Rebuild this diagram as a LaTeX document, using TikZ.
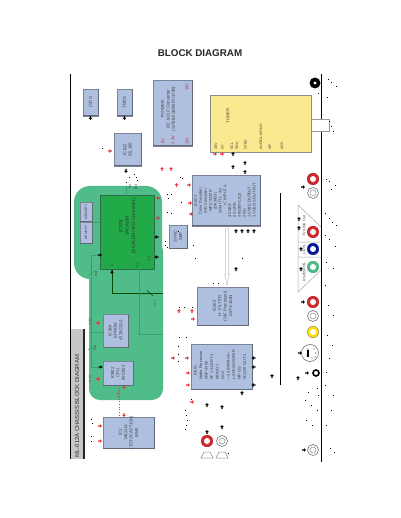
\documentclass[tikz,border=0pt]{standalone}
\usepackage{fontspec}
\setmainfont{Liberation Sans}
\definecolor{blockfill}{HTML}{AEBFE0}
\definecolor{blockedge}{HTML}{7A8496}
\definecolor{zone}{HTML}{50BC8A}
\definecolor{zoneline}{HTML}{3C9E6E}
\definecolor{chip}{HTML}{22AA48}
\definecolor{tunerfill}{HTML}{FBE98F}
\definecolor{redmk}{HTML}{E8303A}
\tikzset{
 blockbox/.style={draw=blockedge,fill=blockfill,line width=.7pt,inner sep=0pt,outer sep=0pt},
 blocktxt/.style={rotate=90,align=center,font=\fontsize{4.3}{5.4}\selectfont,text=black!75,inner sep=0pt},
 leftxt/.style={rotate=90,align=left,font=\fontsize{3.9}{4.9}\selectfont,text=black!75,inner sep=0pt},
 tunertxt/.style={rotate=90,anchor=west,font=\fontsize{3.6}{4}\selectfont,text=black!75,inner sep=0pt},
 redtxt/.style={rotate=90,font=\fontsize{4}{4}\selectfont,text=redmk!80!black,inner sep=0pt},
 wire/.style={draw=zoneline,line width=.5pt},
 darkwire/.style={draw=black!70!green,line width=.8pt},
 framerule/.style={draw=black,line width=1pt},
 tinytxt/.style={rotate=90,font=\fontsize{3.3}{4}\selectfont,text=black!70,inner sep=0pt},
}
\newcommand\blk[6]{%
 \node[blockbox,minimum width={(#4-#2)*1pt},minimum height={(#5-#3)*1pt}] (#1) at ({(#2+#4)/2},{(#3+#5)/2}) {};
 \draw[blockedge!80!black,line width=1pt] (#1.north east)--(#1.south east)--(#1.south west);
 \node[blocktxt] at (#1) {#6};}
\newcommand\mk[4]{\fill[#3,shift={(#1,#2)},rotate=#4] (-2,-.6) rectangle (0,.6) (0,-1.9)--(2,0)--(0,1.9)--cycle;}
\newcommand\jack[4]{\node[circle,fill=#3,draw=#4,line width=.4pt,minimum size=11.5pt,inner sep=0pt] (#1) at (#2) {};
 \fill[white] (#1) circle (3pt);}
\newcommand\gjack[2]{\node[circle,fill=white,draw=black!55,line width=.6pt,minimum size=11pt,inner sep=0pt] (#1) at (#2) {};
 \draw[black!45,line width=.5pt] (#1) circle (3pt);}
\begin{document}
\begin{tikzpicture}[x=1pt,y=-1pt]
\useasboundingbox (0,0) rectangle (400,518);
\fill[white] (0,0) rectangle (400,518);
\node[font=\bfseries\fontsize{9.8}{10}\selectfont,text=black!85,inner sep=0pt] (title) at (200,53) {BLOCK DIAGRAM};
% frame
\coordinate (fl1) at (70,74); \coordinate (fl2) at (70,459);
\coordinate (fr1) at (321,74); \coordinate (fr2) at (321,462);
\draw[framerule] (fl1)--(fl2);
\draw[framerule] (fr1)--(fr2);
\coordinate (vl1) at (280,193); \coordinate (vl2) at (280,385);
\draw[black,line width=.7pt] (vl1)--(vl2);
% title bar
\node[fill=black!22,draw=none,minimum width=12pt,minimum height=130pt,inner sep=0pt] (bar) at (77,394) {};
\fill[black!85] (bar.north east) rectangle ++(1.8,130);
\node[rotate=90,anchor=west,font=\fontsize{5.9}{6}\selectfont,text=black!80,inner sep=0pt] at (77,457.5) {ML-012A  CHASSIS  BLOCK  DIAGRAM};
% green zone
\fill[zone,rounded corners=16pt] (74,186) rectangle (162,279);
\fill[zone,rounded corners=11pt] (89,240) rectangle (163,400);
% blocks
\blk{lvds}{83}{89}{98}{116}{LVDS}
\blk{tmds}{117}{89}{132}{116}{TMDS}
\blk{power}{153}{80}{192}{146}{}
\node[blocktxt] at (168.5,109) {POWER\\DC to DC Converter\\(SI7661/SM8507/1780)};
\blk{ic812}{114}{133}{141}{166}{IC812\\SIL100}
\node[draw=zoneline!70!black,line width=1pt,fill=chip,minimum width=54pt,minimum height=73pt,inner sep=0pt,outer sep=0pt] (ic801) at (127,232.5) {};
\node[rotate=90,align=center,font=\fontsize{4.8}{6.4}\selectfont,text=black!80,inner sep=0pt] at (127.5,226) {IC801\\JAGASM\\(SCALER/ A/D Converter)};
\node[tunertxt,anchor=center,font=\fontsize{4}{4}\selectfont] (pc) at (112,265) {C};
\node[tunertxt,anchor=center,font=\fontsize{4}{4}\selectfont] (pa2) at (137,265) {A2};
\node[tunertxt,anchor=center,font=\fontsize{4}{4}\selectfont] (pa1) at (149,259) {A1};
\blk{mema}{80}{202}{92}{222}{\fontsize{3.3}{4}\selectfont MEMORY}
\blk{memb}{80}{222}{92}{243}{\fontsize{3.3}{4}\selectfont MEMORY}
\blk{sync}{169}{225}{187}{248}{SYNC\\SEP}
\blk{ic804}{103}{314}{128}{347}{IC804\\EPROM\\AT29C010}
\blk{ic802}{103}{361}{133}{385}{IC802\\CPU\\80C652}
\blk{ic1}{103}{417}{154}{448}{IC1\\MICOM\\(TOTOCAPTION)\\MM2}
\blk{ic302}{197}{287}{248}{325}{IC302\\H- FILTER\\(SIF Processor)\\LGTV-1581}
\blk{aud}{191}{344}{252}{389}{}
\node[leftxt,font=\fontsize{3.9}{5.5}\selectfont] at (220,365) {\hspace*{4pt}IC601\\Audio Processor\\MSP-3400\\RF 1 SCART  4\\MONO  1\\OS  2\\---14.5/40MHz---\\L-SPK/WOOFER\\H/P OS\\SCART OUT  2};
\blk{dec}{192}{175}{260}{226}{}
\node[leftxt,align=center] at (208,201) {IC501\\Color Decoder/\\A/D Converter\\WPC-3230D\\(DK3853)\\COM/TTL : 4/1};
\node[leftxt] at (225,196) {$<$ INPUT  A};
\node[leftxt,anchor=west] at (242,218) {4 CVBS\\2 S-VHS\\4 RGB/YCrCb\\2 FIS\\1 CVBS OUTPUT\\1 YCbCrS OUTPUT};
% power rail labels
\node[redtxt] at (163,141) {5V};
\node[redtxt] at (173,140) {3.3V};
\node[redtxt] at (187,141) {12V};
\node[redtxt] at (187,87) {15V};
% tuner
\node[draw=black!40,fill=white,line width=.8pt,minimum width=18pt,minimum height=12pt,inner sep=0pt,outer sep=0pt] (ant) at (320,125) {};
\node[draw=black!45,fill=tunerfill,line width=.7pt,minimum width=101pt,minimum height=57pt,inner sep=0pt,outer sep=0pt] (tuner) at (260.5,123.5) {};
\node[blocktxt] at (228,116) {TUNER};
\node[tunertxt] at (216,150) {36V};
\node[tunertxt] at (222.5,150) {5V};
\node[tunertxt] at (232,150) {SCL};
\node[tunertxt] at (237,150) {SDA};
\node[tunertxt] at (245.5,150) {CVBS};
\node[tunertxt] at (261,150) {AUDIOL,MONO};
\node[tunertxt] at (270,150) {SIF};
\node[tunertxt] at (282,150) {AGC};
% zone wiring
\coordinate (busT) at (91,255);
\coordinate (busB) at (91,367);
\draw[wire] (busT)--(busB);
\draw[wire] (busT)--(ic801.west |- busT);
\draw[wire] (busB)--(ic802.west |- busB);
\mk{100}{255}{black}{0}
\mk{100.5}{367}{black}{0}
\draw[wire] (mema.south east)--(ic801.west |- mema.south east);
\draw[wire] (126,186)--(126,196);
\coordinate (cb) at (163,293);
\draw[darkwire] (112,270)--(112,293)--(cb);
\mk{112}{272}{black}{-90}
\draw[wire] (139,269)--(139,334)--(163,334);
\draw[wire] (90,332)--(ic804.west |- 0,332);
\draw[darkwire,line width=.5pt] (147,290)--(153,296);
\draw[wire] (88,276)--(93,272);
\draw[wire] (88,350)--(93,346);
\node[tinytxt] at (96,274) {8bit};
\node[tinytxt] at (95,348) {8bit};
\node[tinytxt] at (90,322) {3.3V};
\node[tinytxt] at (90,379) {3.3V};
\node[tinytxt,text=black!60] at (155,303) {8 BIT};
\node[tinytxt] at (130,187) {Bit};
\node[tinytxt] at (136,187) {8Bit};
\node[tinytxt,text=redmk] at (118,395) {3.3V};
\draw[redmk,dotted,line width=.7pt] (ic802.south -| 119,0) -- (ic1.north -| 119,0);
% hollow arrow
\draw[black!25,line width=.5pt] (225.7,228) -- (225.7,274) -- (224.6,274) -- (227,285) -- (229.4,274) -- (228.3,274) -- (228.3,228) -- cycle;
% connectors
\node[circle,fill=black,minimum size=11pt,inner sep=0pt] (j0) at (315,83) {};
\fill[white] (j0) circle (1.6pt);
\jack{j1}{313,179}{redmk!90!black}{red!70!black}
\gjack{j2}{313,193}
\draw[black!35,line width=.5pt] (298,205)--(321,227) (321,270)--(298,292)--(298,205) (298,242)--(321,242) (298,257)--(321,257);
\jack{j3}{313,232}{redmk!90!black}{red!70!black}
\jack{j4}{313,249}{blue!60!black!90!cyan}{blue!50!black}
\jack{j5}{313,267}{zone}{zoneline}
\node[tunertxt,anchor=center] at (304,226) {TV/LINK Out};
\node[tunertxt,anchor=center] at (304,250) {L/R/S};
\node[tunertxt,anchor=center] at (304,272) {RGB/SVHS};
\jack{j6}{313,302}{redmk!90!black}{red!70!black}
\gjack{j7}{313,316}
\jack{j8}{313,332}{yellow!85!orange}{black!50}
\node[circle,fill=white,draw=black!50,line width=.7pt,minimum size=17pt,inner sep=0pt] (sv) at (310,353) {};
\fill[black] (306.5,350) rectangle (309,356.5);
\foreach \a/\b in {-3/-4,3/-4,4.5/0,-4/2,4/4,1/5}{\fill[black!75] (311+\a,353+\b) circle (.7pt);}
\node[circle,fill=white,draw=black,line width=1.6pt,minimum size=6pt,inner sep=0pt] (j9) at (316,373) {};
\gjack{j10}{313,450}
\jack{j11}{207,441}{redmk!90!black}{red!70!black}
\gjack{j12}{222,441}
\draw[black!45,line width=.5pt] (204,452)--(210,452)--(213,458)--(201,458)--cycle;
\draw[black!45,line width=.5pt] (219,452)--(225,452)--(228,458)--(216,458)--cycle;
% black markers
\foreach \x/\y/\a in {90.5/118/-90,124.5/118/-90,126/171/-90,156.5/237/180,156.5/257/180,245/172/90,
 233/154/90,233/167/90,245/163/90,299/219/90,299/228/90,301/249/90,301/269/90,303/187/0,
 253.5/358/180,253.5/367/180,253.5/385/180,242/393/90,272/376/90,298/378/90,307/373/0,303/302/0,300/353/0,304/450/0,
 207/405/90,222/407/90,207/432/90,222/427/90,236/231/90,242/231/90,248/231/90,254/231/90,236/269/90}
 {\mk{\x}{\y}{black}{\a}}
% red markers
\foreach \x/\y/\a in {110/151/180,162/169/90,171/169/90,176.5/185/90,189/185/0,158/198/180,158/218/180,190/203/0,191/214/0,
 173/358/0,187/358/0,188/373/0,188/385/0,192/402/0,100/426/0,100/441/0,124/415/-90,124/387/-90,98/379/0,98/323/0,
 179/311/90,192/311/90,193/319/0,215/154/0,222/154/0}
 {\mk{\x}{\y}{redmk}{\a}}
% specks
\foreach \x/\y in {102/149,134/175,129/178,136/178,137/181,126/183,180/178,182/179,167/195,171/195,168/199,167/213,171/214,181/203,178/231,165/241,165/245,167/247,193/245,195/258,242/258,213/283,218/283,
 318/94,192/307,184/307,179/307,179/337,186/337,178/346,178/354,178/361,191/399,185/410,186/415,187/420,186/425,185/429,
 91/419,92/423,91/436,91/441,328/80,331/83,336/87,327/98,329/122,331/127,333/132,326/180,329/182,335/186,331/190,325/214,329/219,332/223,336/226,325/235,329/239,335/246,326/262,333/268,325/285,328/305,333/315,327/335,332/345,329/358,326/372,325/385,333/395,331/410,326/425,330/448,334/452,
 305/400,311/405,317/410,306/420,312/425,318/395,317/388,308/392,228/453}
 {\fill[black] (\x-.5,\y-.5) rectangle ++(1,1);}
\end{tikzpicture}
\end{document}
